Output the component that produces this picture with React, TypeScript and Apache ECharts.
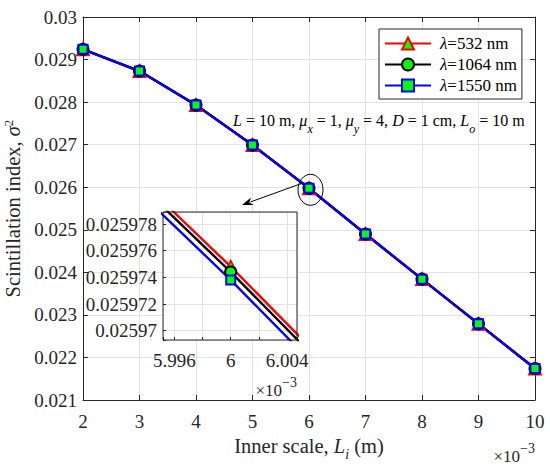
import React, { useEffect, useRef } from "react";
import * as echarts from "echarts";

// Inner scale (×10^-3 m)
const xs = [2, 3, 4, 5, 6, 7, 8, 9, 10];
// Scintillation index for each wavelength
const red532 = [0.0292404, 0.0287304, 0.0279304, 0.0269904, 0.0259748, 0.0249004, 0.0238404, 0.0227904, 0.0217404];
const black1064 = [0.02924, 0.02873, 0.02793, 0.02699, 0.0259744, 0.0249, 0.02384, 0.02279, 0.02174];
const blue1550 = [0.0292394, 0.0287294, 0.0279294, 0.0269894, 0.0259738, 0.0248994, 0.0238394, 0.0227894, 0.0217394];
const seriesNames = ["λ=532 nm", "λ=1064 nm", "λ=1550 nm"];
const insetXLabels = [5.996, 6, 6.004];
const zoomPointX = 6;

const SERIF = "Liberation Serif";
const AX = "#262626";
const GRIDC = "#e3e3e3";
const TICK_FS = 19;
const TITLE_FS = 20.5;

const MAIN = { left: 83, right: 15, top: 17, bottom: 64 };
const INSET = { left: 163, top: 212, width: 134, height: 128 };

export default function App() {
  const ref = useRef<HTMLDivElement>(null);
  useEffect(() => {
    const chart = echarts.init(ref.current!, null, { renderer: "svg" });
    const all = [red532, black1064, blue1550];
    const sty = [
      { color: "#ff0000", symbol: "triangle", size: 12, bw: 1.8 },
      { color: "#000000", symbol: "circle", size: 11, bw: 2 },
      { color: "#0000ff", symbol: "rect", size: 9, bw: 2 },
    ];
    const mk = (i: number, xi: number, yi: number, z: number) => ({
      type: "line",
      name: seriesNames[i],
      xAxisIndex: xi,
      yAxisIndex: yi,
      data: xs.map((x, k) => [x, all[i][k]]),
      symbol: sty[i].symbol,
      symbolSize: sty[i].size,
      showAllSymbol: true,
      clip: true,
      silent: true,
      z,
      lineStyle: { color: sty[i].color, width: 2.4 },
      itemStyle: { color: "#00ff00", borderColor: sty[i].color, borderWidth: sty[i].bw },
      emphasis: { disabled: true },
    });
    const tickIn = { show: true, inside: true, length: 5, lineStyle: { color: AX } };
    const axLine = { show: true, lineStyle: { color: AX, width: 1 } };
    const split = { show: true, lineStyle: { color: GRIDC, width: 1 } };
    const lbl = { fontFamily: SERIF, fontSize: TICK_FS, color: AX };
    const xTitleRich = {
      n: { fontFamily: SERIF, fontSize: TITLE_FS, color: AX, lineHeight: 30 },
      i: { fontFamily: SERIF, fontSize: TITLE_FS, fontStyle: "italic", color: AX, lineHeight: 30 },
      sub: { fontFamily: SERIF, fontSize: 14, fontStyle: "italic", color: AX, lineHeight: 12, verticalAlign: "bottom" },
    };
    const yTitleRich = {
      n: { fontFamily: SERIF, fontSize: TITLE_FS, color: AX, lineHeight: 22 },
      i: { fontFamily: SERIF, fontSize: TITLE_FS, fontStyle: "italic", color: AX, lineHeight: 22 },
      sup: { fontFamily: SERIF, fontSize: 13, color: AX, lineHeight: 9, verticalAlign: "top" },
    };

    const option: any = {
      animation: false,
      backgroundColor: "#fff",
      textStyle: { fontFamily: SERIF },
      grid: [
        { ...MAIN, containLabel: false, outerBoundsMode: "none" },
        {
          left: INSET.left,
          top: INSET.top,
          width: INSET.width,
          height: INSET.height,
          containLabel: false,
          outerBoundsMode: "none",
        },
      ],
      legend: {
        data: seriesNames,
        orient: "vertical",
        left: 379,
        top: 29,
        itemWidth: 46,
        itemHeight: 15,
        itemGap: 4,
        padding: [6, 5, 5, 5],
        backgroundColor: "#fff",
        borderColor: AX,
        borderWidth: 1,
        selectedMode: false,
        formatter: (n: string) => "{i|λ}{n|" + n.slice(1) + "}",
        textStyle: {
          color: "#000",
          fontFamily: SERIF,
          fontSize: 17,
          padding: [0, 0, 0, 4],
          rich: {
            i: { fontStyle: "italic", fontFamily: SERIF, fontSize: 17, color: "#000" },
            n: { fontFamily: SERIF, fontSize: 17, color: "#000" },
          },
        },
      },
      xAxis: [
        {
          type: "value",
          gridIndex: 0,
          min: 2,
          max: 10,
          interval: 1,
          position: "bottom",
          axisLine: axLine,
          axisTick: tickIn,
          splitLine: split,
          axisLabel: { ...lbl, margin: 12 },
          name: "{n|Inner scale, }{i|L}{sub|i}{n| (m)}",
          nameLocation: "middle",
          nameGap: 25,
          nameTextStyle: { fontFamily: SERIF, fontSize: TITLE_FS, color: AX, rich: xTitleRich },
        },
        {
          type: "value",
          gridIndex: 0,
          min: 2,
          max: 10,
          interval: 1,
          position: "top",
          axisLine: axLine,
          axisTick: tickIn,
          splitLine: { show: false },
          axisLabel: { show: false },
        },
        {
          type: "value",
          gridIndex: 1,
          min: 5.9952,
          max: 6.0047,
          splitNumber: 5,
          z: 3,
          axisLine: { show: false },
          axisTick: { show: true, inside: true, length: 3, lineStyle: { color: AX } },
          splitLine: split,
          axisLabel: {
            ...lbl,
            margin: 11,
            formatter: (v: number) => {
              const hit = insetXLabels.find((t) => Math.abs(t - v) < 1e-7);
              return hit === undefined ? "" : String(hit);
            },
          },
        },
      ],
      yAxis: [
        {
          type: "value",
          gridIndex: 0,
          min: 0.021,
          max: 0.03,
          interval: 0.001,
          position: "left",
          axisLine: axLine,
          axisTick: tickIn,
          splitLine: split,
          axisLabel: { ...lbl, margin: 6, formatter: (v: number) => parseFloat(v.toFixed(4)).toString() },
          name: "{n|Scintillation index, }{i|σ}{sup|2}",
          nameLocation: "middle",
          nameRotate: 90,
          nameGap: 57,
          nameTextStyle: { fontFamily: SERIF, fontSize: TITLE_FS, color: AX, rich: yTitleRich },
        },
        {
          type: "value",
          gridIndex: 0,
          min: 0.021,
          max: 0.03,
          interval: 0.001,
          position: "right",
          axisLine: axLine,
          axisTick: tickIn,
          splitLine: { show: false },
          axisLabel: { show: false },
        },
        {
          type: "value",
          gridIndex: 1,
          min: 0.0259693,
          max: 0.0259789,
          splitNumber: 5,
          z: 3,
          axisLine: { show: false },
          axisTick: { show: true, inside: true, length: 3, lineStyle: { color: AX } },
          splitLine: split,
          axisLabel: {
            ...lbl,
            margin: 6,
            formatter: (v: number) => {
              const q = v * 5e5;
              if (Math.abs(q - Math.round(q)) > 1e-3) return "";
              return parseFloat(v.toFixed(6)).toString();
            },
          },
        },
      ],
      series: [mk(0, 0, 0, 2), mk(1, 0, 0, 2), mk(2, 0, 0, 2), mk(0, 2, 2, 4), mk(1, 2, 2, 4), mk(2, 2, 2, 4)],
    };
    chart.setOption(option);

    const p = chart.convertToPixel({ xAxisIndex: 0, yAxisIndex: 0 }, [zoomPointX, black1064[xs.indexOf(zoomPointX)]]) as number[];
    const tip = [242, 205];
    const start = [p[0] - 7, p[1] - 5];
    const dx = tip[0] - start[0];
    const dy = tip[1] - start[1];
    const len = Math.hypot(dx, dy);
    const ux = dx / len;
    const uy = dy / len;
    const hl = 11;
    const hw = 4;
    const bx = tip[0] - ux * hl;
    const by = tip[1] - uy * hl;
    const textRich = {
      n: { fontFamily: SERIF, fontSize: 16, fill: "#000", lineHeight: 30 },
      i: { fontFamily: SERIF, fontSize: 16, fontStyle: "italic", fill: "#000", lineHeight: 30 },
      sub: { fontFamily: SERIF, fontSize: 12, fontStyle: "italic", fill: "#000", lineHeight: 12, verticalAlign: "bottom" },
      sup: { fontFamily: SERIF, fontSize: 14, fill: AX, lineHeight: 12, verticalAlign: "top" },
      m: { fontFamily: SERIF, fontSize: 17, fill: AX, lineHeight: 30 },
    };

    chart.setOption({
      graphic: [
        {
          type: "rect",
          z: 1,
          silent: true,
          shape: { x: INSET.left, y: INSET.top, width: INSET.width, height: INSET.height },
          style: { fill: "#fff", stroke: "none" },
        },
        {
          type: "rect",
          z: 5,
          silent: true,
          shape: { x: INSET.left, y: INSET.top, width: INSET.width, height: INSET.height },
          style: { fill: "none", stroke: AX, lineWidth: 1 },
        },
        {
          type: "ellipse",
          z: 6,
          silent: true,
          shape: { cx: p[0] + 1.5, cy: p[1] + 1.5, rx: 12.5, ry: 15.5 },
          style: { fill: "none", stroke: "#000", lineWidth: 1 },
        },
        {
          type: "line",
          z: 6,
          silent: true,
          shape: { x1: start[0], y1: start[1], x2: bx + ux * 2, y2: by + uy * 2 },
          style: { stroke: "#000", lineWidth: 1 },
        },
        {
          type: "polygon",
          z: 6,
          silent: true,
          shape: {
            points: [
              [tip[0], tip[1]],
              [bx - uy * hw, by + ux * hw],
              [tip[0] - ux * hl * 0.7, tip[1] - uy * hl * 0.7],
              [bx + uy * hw, by - ux * hw],
            ],
          },
          style: { fill: "#000" },
        },
        {
          type: "text",
          z: 6,
          silent: true,
          x: 233,
          y: 120,
          style: {
            text: "{i|L}{n| = 10 m, }{i|μ}{sub|x}{n| = 1, }{i|μ}{sub|y}{n| = 4, }{i|D}{n| = 1 cm, }{i|L}{sub|o}{n| = 10 m}",
            rich: textRich,
            fontFamily: SERIF,
            fontSize: 16,
            fill: "#000",
            align: "left",
            verticalAlign: "middle",
            textAlign: "left",
            textVerticalAlign: "middle",
          },
        },
        {
          type: "text",
          z: 6,
          silent: true,
          x: 535,
          y: 456,
          style: {
            text: "{m|×10}{sup|−3}",
            rich: textRich,
            fontFamily: SERIF,
            fontSize: 17,
            fill: AX,
            align: "right",
            verticalAlign: "middle",
            textAlign: "right",
            textVerticalAlign: "middle",
          },
        },
        {
          type: "text",
          z: 6,
          silent: true,
          x: 297,
          y: 390,
          style: {
            text: "{m|×10}{sup|−3}",
            rich: textRich,
            fontFamily: SERIF,
            fontSize: 17,
            fill: AX,
            align: "right",
            verticalAlign: "middle",
            textAlign: "right",
            textVerticalAlign: "middle",
          },
        },
      ],
    });

    return () => chart.dispose();
  }, []);
  return <div ref={ref} style={{ position: "fixed", left: 0, top: 0, width: 550, height: 464 }} />;
}
